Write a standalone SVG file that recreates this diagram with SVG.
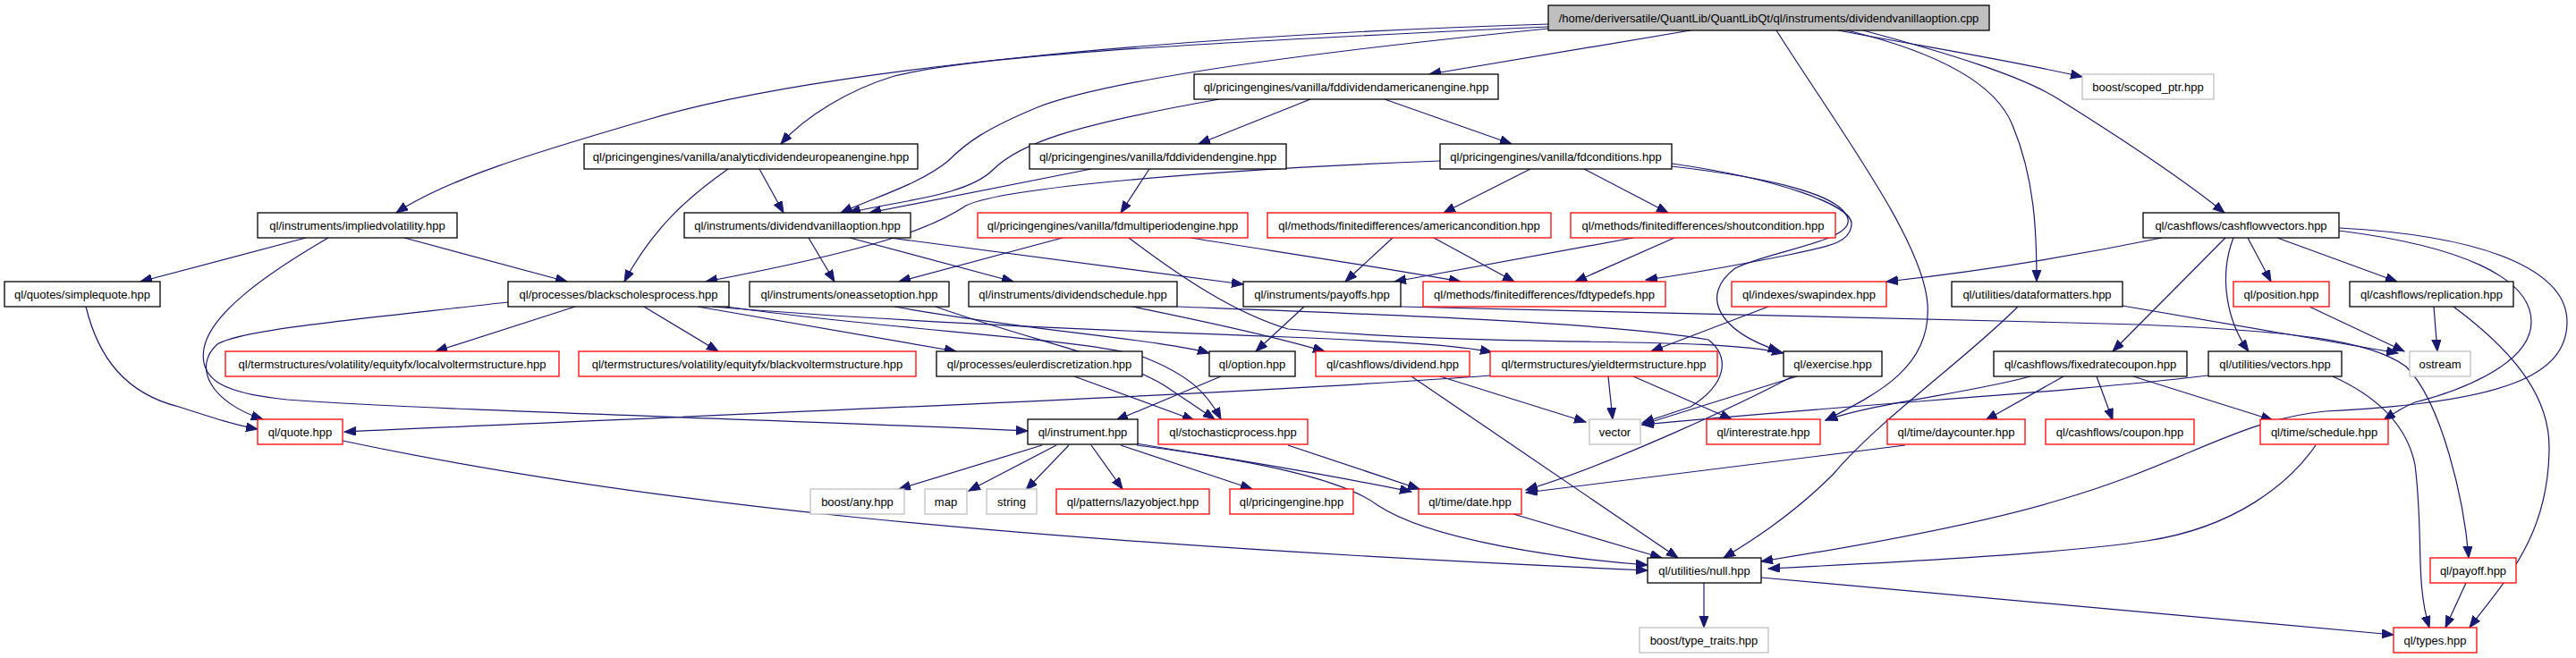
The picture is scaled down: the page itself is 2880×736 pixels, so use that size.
<svg xmlns="http://www.w3.org/2000/svg" width="2880" height="736" viewBox="0 0 2880 736">
<style>
.n rect{fill:#fff;stroke:#000;stroke-width:1.3}
.n.r rect{stroke:#ff0000}
.n.g rect{stroke:#bfbfbf}
.n.root rect{fill:#bfbfbf;stroke:#000}
.n text{font-family:"Liberation Sans",Arial,sans-serif;font-size:13px;text-anchor:middle;fill:#000}
#edges path{fill:none;stroke:#191970;stroke-width:1.2;marker-end:url(#arr)}
</style>
<defs>
<marker id="arr" markerWidth="14" markerHeight="11" refX="13" refY="5" orient="auto" markerUnits="userSpaceOnUse"><path d="M0,0 L13,5 L0,10 z" fill="#191970" stroke="#191970" stroke-width="1"/></marker>
</defs>
<rect width="2880" height="736" fill="#fff"/>
<g id="edges">
<path d="M1890,34 L1598,83"/>
<path d="M1731,30 C1400,45 1100,60 1000,85 C950,100 900,130 873,161"/>
<path d="M1731,27 C1300,40 900,80 720,135 C600,170 500,200 443,238"/>
<path d="M1731,32 C1500,55 1250,85 1160,120 C1100,145 1080,160 1060,180 C1030,205 980,220 940,238"/>
<path d="M2055,34 C2150,52 2250,68 2328,86"/>
<path d="M2083,34 C2180,60 2260,85 2300,110 C2380,160 2440,200 2487,238"/>
<path d="M2065,34 C2160,57 2230,90 2250,140 C2275,200 2277,260 2277,315"/>
<path d="M1986,34 C2060,150 2150,270 2155,340 C2160,410 2100,440 2041,470"/>
<path d="M1465,111 L1340,161"/>
<path d="M1548,111 L1690,161"/>
<path d="M1363,111 C1200,140 1140,160 1110,190 C1080,220 1000,225 949,238"/>
<path d="M849,189 L876,238"/>
<path d="M814,189 C770,220 730,255 698,315"/>
<path d="M1220,189 L972,238"/>
<path d="M1285,189 L1253,238"/>
<path d="M1610,180 C1350,190 1120,210 1080,230 C1050,250 1000,275 789,315"/>
<path d="M1711,189 L1614,238"/>
<path d="M1771,189 L1865,238"/>
<path d="M1869,183 C1990,200 2070,230 2070,250 C2070,270 2050,275 2000,285 C1950,295 1900,305 1840,313"/>
<path d="M1869,186 C1990,200 2060,220 2066,245 C2072,270 1980,280 1940,300 C1900,330 1920,370 1990,393"/>
<path d="M342,266 L157,315"/>
<path d="M367,266 C300,305 235,350 228,390 C222,425 250,440 321,447 C500,460 900,470 1149,482"/>
<path d="M568,338 C420,355 270,368 243,385 C215,410 235,450 294,469"/>
<path d="M452,266 L634,315"/>
<path d="M96,343 C110,400 140,440 200,455 C240,468 265,476 288,480"/>
<path d="M1666,420 C1400,440 900,460 385,483"/>
<path d="M383,493 C700,560 1100,605 1842,638"/>
<path d="M643,343 L487,393"/>
<path d="M720,343 L803,393"/>
<path d="M780,343 L1069,393"/>
<path d="M796,343 C1000,360 1300,372 1440,377 C1560,382 1630,386 1668,394"/>
<path d="M812,343 C1000,370 1230,380 1280,400 C1330,420 1350,440 1365,469"/>
<path d="M1000,343 C1150,370 1300,380 1352,395"/>
<path d="M1046,343 C1150,380 1250,400 1300,430 C1330,450 1345,460 1358,469"/>
<path d="M904,266 L933,315"/>
<path d="M950,266 L1133,315"/>
<path d="M995,266 L1390,318"/>
<path d="M1188,266 L1005,315"/>
<path d="M1331,266 C1450,285 1550,300 1633,315"/>
<path d="M1262,266 C1320,310 1380,350 1440,368 C1700,390 1900,375 1994,395"/>
<path d="M1266,343 C1350,360 1420,375 1481,393"/>
<path d="M1316,343 C1500,350 1800,360 1910,380 C1935,400 1930,430 1890,455 L1836,473"/>
<path d="M1458,343 L1404,393"/>
<path d="M1566,343 C1800,350 2100,355 2390,363 C2560,370 2650,380 2690,410 C2730,450 2755,560 2760,624"/>
<path d="M1557,266 L1504,315"/>
<path d="M1603,266 L1693,315"/>
<path d="M1826,266 L1559,315"/>
<path d="M1872,266 L1761,315"/>
<path d="M1977,343 L1846,393"/>
<path d="M2417,266 C2300,290 2200,305 2109,315"/>
<path d="M2488,266 L2362,393"/>
<path d="M2497,266 C2480,310 2490,360 2514,393"/>
<path d="M2513,266 L2539,315"/>
<path d="M2546,266 L2680,315"/>
<path d="M2615,255 C2800,265 2870,310 2870,360 C2870,420 2800,450 2600,460 C2500,470 2440,520 2300,560 C2200,590 2050,615 1969,628"/>
<path d="M2615,258 C2750,275 2830,310 2830,360 C2830,410 2740,440 2700,450 C2685,456 2675,463 2665,470"/>
<path d="M2373,342 L2681,395"/>
<path d="M2256,343 C2200,400 2100,470 2050,530 C2000,580 1950,610 1927,624"/>
<path d="M2582,343 L2688,393"/>
<path d="M2721,343 L2725,393"/>
<path d="M2743,343 C2820,400 2850,450 2850,500 C2850,600 2800,650 2761,702"/>
<path d="M2270,421 C2200,440 2100,450 2041,470"/>
<path d="M2307,421 L2220,470"/>
<path d="M2344,421 L2362,470"/>
<path d="M2385,421 L2541,470"/>
<path d="M2469,420 C2300,440 2100,450 1836,475"/>
<path d="M2608,421 C2650,440 2690,470 2700,520 C2710,600 2700,650 2716,702"/>
<path d="M2130,498 L1706,551"/>
<path d="M2589,498 C2560,540 2500,590 2400,605 C2300,620 2100,630 1977,636"/>
<path d="M1905,652 L1905,702"/>
<path d="M1969,646 L2676,710"/>
<path d="M2757,652 L2734,702"/>
<path d="M1692,575 L1858,624"/>
<path d="M1610,421 L1773,472"/>
<path d="M1578,421 L1876,624"/>
<path d="M1798,421 L1803,469"/>
<path d="M1826,421 L1936,469"/>
<path d="M2009,421 L1836,475"/>
<path d="M2004,421 C1950,450 1800,520 1706,548"/>
<path d="M1165,498 L1005,547"/>
<path d="M1181,498 L1083,549"/>
<path d="M1195,498 L1147,548"/>
<path d="M1220,498 L1255,547"/>
<path d="M1253,498 L1400,547"/>
<path d="M1440,498 L1587,547"/>
<path d="M1271,496 C1350,510 1440,522 1578,550"/>
<path d="M1271,498 C1400,515 1500,535 1540,565 C1600,605 1750,625 1842,632"/>
<path d="M1365,421 L1248,470"/>
<path d="M1201,421 L1335,470"/>
</g>
<g id="n_root" class="n root"><rect x="1731" y="6" width="493" height="28"/><text x="1977.5" y="25">/home/deriversatile/QuantLib/QuantLibQt/ql/instruments/dividendvanillaoption.cpp</text></g>
<g id="n_fdamer" class="n"><rect x="1335" y="83" width="340" height="28"/><text x="1505" y="102">ql/pricingengines/vanilla/fddividendamericanengine.hpp</text></g>
<g id="n_scoped" class="n g"><rect x="2328" y="83" width="147" height="28"/><text x="2401.5" y="102">boost/scoped_ptr.hpp</text></g>
<g id="n_analytic" class="n"><rect x="653" y="161" width="373" height="28"/><text x="839.5" y="180">ql/pricingengines/vanilla/analyticdividendeuropeanengine.hpp</text></g>
<g id="n_fddiv" class="n"><rect x="1151" y="161" width="287" height="28"/><text x="1294.5" y="180">ql/pricingengines/vanilla/fddividendengine.hpp</text></g>
<g id="n_fdcond" class="n"><rect x="1610" y="161" width="259" height="28"/><text x="1739.5" y="180">ql/pricingengines/vanilla/fdconditions.hpp</text></g>
<g id="n_implied" class="n"><rect x="288" y="238" width="223" height="28"/><text x="399.5" y="257">ql/instruments/impliedvolatility.hpp</text></g>
<g id="n_dvo" class="n"><rect x="765" y="238" width="253" height="28"/><text x="891.5" y="257">ql/instruments/dividendvanillaoption.hpp</text></g>
<g id="n_fdmulti" class="n r"><rect x="1093" y="238" width="302" height="28"/><text x="1244" y="257">ql/pricingengines/vanilla/fdmultiperiodengine.hpp</text></g>
<g id="n_amer" class="n r"><rect x="1417" y="238" width="317" height="28"/><text x="1575.5" y="257">ql/methods/finitedifferences/americancondition.hpp</text></g>
<g id="n_shout" class="n r"><rect x="1756" y="238" width="296" height="28"/><text x="1904" y="257">ql/methods/finitedifferences/shoutcondition.hpp</text></g>
<g id="n_cfv" class="n"><rect x="2396" y="238" width="219" height="28"/><text x="2505.5" y="257">ql/cashflows/cashflowvectors.hpp</text></g>
<g id="n_simple" class="n"><rect x="5" y="315" width="174" height="28"/><text x="92" y="334">ql/quotes/simplequote.hpp</text></g>
<g id="n_bsp" class="n"><rect x="568" y="315" width="247" height="28"/><text x="691.5" y="334">ql/processes/blackscholesprocess.hpp</text></g>
<g id="n_oneasset" class="n"><rect x="838" y="315" width="223" height="28"/><text x="949.5" y="334">ql/instruments/oneassetoption.hpp</text></g>
<g id="n_divsched" class="n"><rect x="1083" y="315" width="233" height="28"/><text x="1199.5" y="334">ql/instruments/dividendschedule.hpp</text></g>
<g id="n_payoffs" class="n"><rect x="1390" y="315" width="176" height="28"/><text x="1478" y="334">ql/instruments/payoffs.hpp</text></g>
<g id="n_fdtypedefs" class="n r"><rect x="1591" y="315" width="271" height="28"/><text x="1726.5" y="334">ql/methods/finitedifferences/fdtypedefs.hpp</text></g>
<g id="n_swapindex" class="n r"><rect x="1936" y="315" width="173" height="28"/><text x="2022.5" y="334">ql/indexes/swapindex.hpp</text></g>
<g id="n_dataformatters" class="n"><rect x="2182" y="315" width="191" height="28"/><text x="2277.5" y="334">ql/utilities/dataformatters.hpp</text></g>
<g id="n_position" class="n r"><rect x="2497" y="315" width="107" height="28"/><text x="2550.5" y="334">ql/position.hpp</text></g>
<g id="n_replication" class="n"><rect x="2627" y="315" width="183" height="28"/><text x="2718.5" y="334">ql/cashflows/replication.hpp</text></g>
<g id="n_localvol" class="n r"><rect x="252" y="393" width="373" height="28"/><text x="438.5" y="412">ql/termstructures/volatility/equityfx/localvoltermstructure.hpp</text></g>
<g id="n_blackvol" class="n r"><rect x="647" y="393" width="377" height="28"/><text x="835.5" y="412">ql/termstructures/volatility/equityfx/blackvoltermstructure.hpp</text></g>
<g id="n_euler" class="n"><rect x="1047" y="393" width="230" height="28"/><text x="1162" y="412">ql/processes/eulerdiscretization.hpp</text></g>
<g id="n_option" class="n"><rect x="1352" y="393" width="96" height="28"/><text x="1400" y="412">ql/option.hpp</text></g>
<g id="n_dividend" class="n r"><rect x="1471" y="393" width="172" height="28"/><text x="1557" y="412">ql/cashflows/dividend.hpp</text></g>
<g id="n_yts" class="n r"><rect x="1666" y="393" width="254" height="28"/><text x="1793" y="412">ql/termstructures/yieldtermstructure.hpp</text></g>
<g id="n_exercise" class="n"><rect x="1994" y="393" width="110" height="28"/><text x="2049" y="412">ql/exercise.hpp</text></g>
<g id="n_fixedrate" class="n"><rect x="2229" y="393" width="216" height="28"/><text x="2337" y="412">ql/cashflows/fixedratecoupon.hpp</text></g>
<g id="n_vectors" class="n"><rect x="2469" y="393" width="149" height="28"/><text x="2543.5" y="412">ql/utilities/vectors.hpp</text></g>
<g id="n_ostream" class="n g"><rect x="2694" y="393" width="68" height="28"/><text x="2728" y="412">ostream</text></g>
<g id="n_quote" class="n r"><rect x="288" y="469" width="95" height="28"/><text x="335.5" y="488">ql/quote.hpp</text></g>
<g id="n_instrument" class="n"><rect x="1149" y="469" width="123" height="28"/><text x="1210.5" y="488">ql/instrument.hpp</text></g>
<g id="n_stochastic" class="n r"><rect x="1295" y="469" width="167" height="28"/><text x="1378.5" y="488">ql/stochasticprocess.hpp</text></g>
<g id="n_vector" class="n g"><rect x="1777" y="469" width="57" height="28"/><text x="1805.5" y="488">vector</text></g>
<g id="n_interestrate" class="n r"><rect x="1908" y="469" width="127" height="28"/><text x="1971.5" y="488">ql/interestrate.hpp</text></g>
<g id="n_daycounter" class="n r"><rect x="2110" y="469" width="154" height="28"/><text x="2187" y="488">ql/time/daycounter.hpp</text></g>
<g id="n_coupon" class="n r"><rect x="2287" y="469" width="166" height="28"/><text x="2370" y="488">ql/cashflows/coupon.hpp</text></g>
<g id="n_schedule" class="n r"><rect x="2527" y="469" width="143" height="28"/><text x="2598.5" y="488">ql/time/schedule.hpp</text></g>
<g id="n_any" class="n g"><rect x="906" y="547" width="105" height="28"/><text x="958.5" y="566">boost/any.hpp</text></g>
<g id="n_map" class="n g"><rect x="1034" y="547" width="47" height="28"/><text x="1057.5" y="566">map</text></g>
<g id="n_string" class="n g"><rect x="1103" y="547" width="56" height="28"/><text x="1131" y="566">string</text></g>
<g id="n_lazy" class="n r"><rect x="1181" y="547" width="171" height="28"/><text x="1266.5" y="566">ql/patterns/lazyobject.hpp</text></g>
<g id="n_pricingengine" class="n r"><rect x="1375" y="547" width="138" height="28"/><text x="1444" y="566">ql/pricingengine.hpp</text></g>
<g id="n_date" class="n r"><rect x="1586" y="547" width="115" height="28"/><text x="1643.5" y="566">ql/time/date.hpp</text></g>
<g id="n_null" class="n"><rect x="1842" y="624" width="127" height="28"/><text x="1905.5" y="643">ql/utilities/null.hpp</text></g>
<g id="n_payoff" class="n r"><rect x="2717" y="624" width="96" height="28"/><text x="2765" y="643">ql/payoff.hpp</text></g>
<g id="n_typetraits" class="n g"><rect x="1833" y="702" width="144" height="28"/><text x="1905" y="721">boost/type_traits.hpp</text></g>
<g id="n_types" class="n r"><rect x="2676" y="702" width="93" height="28"/><text x="2722.5" y="721">ql/types.hpp</text></g>
</svg>
